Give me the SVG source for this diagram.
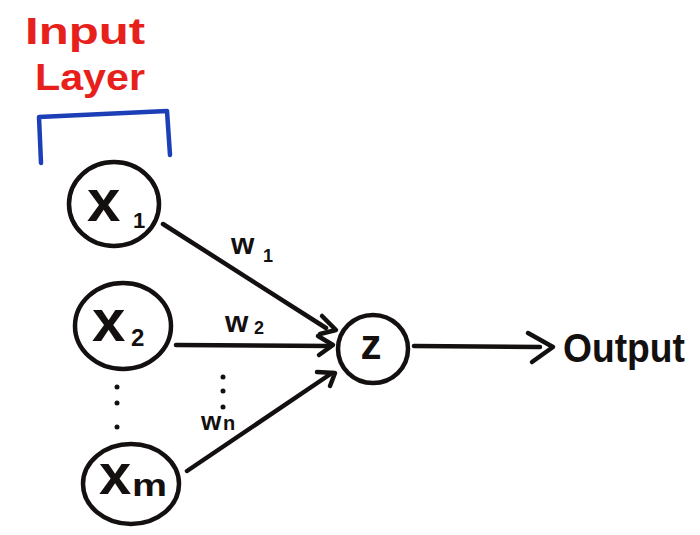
<svg xmlns="http://www.w3.org/2000/svg" width="700" height="535" viewBox="0 0 700 535">
<defs>
<style>
.node{fill:none;stroke:#141010;stroke-width:4.5}
.edge{fill:none;stroke:#141010;stroke-width:4.5;stroke-linecap:round;stroke-linejoin:round}
.lbl{font-family:"Liberation Sans","DejaVu Sans",sans-serif;fill:#141010;font-weight:bold}
.red{font-family:"Liberation Sans","DejaVu Sans",sans-serif;fill:#e8201c;font-weight:bold}
.dot{fill:#141010}
</style>
</defs>
<rect width="700" height="535" fill="#ffffff"/>
<g id="title">
<text class="red" x="25" y="44" font-size="36" textLength="120" lengthAdjust="spacingAndGlyphs">Input</text>
<text class="red" x="35" y="90" font-size="36" textLength="110" lengthAdjust="spacingAndGlyphs">Layer</text>
<path d="M41,163 L39,117 L167,111 L170,155" fill="none" stroke="#1c3fb8" stroke-width="4.5" stroke-linecap="round" stroke-linejoin="round"/>
</g>
<g id="x1">
<ellipse class="node" cx="114" cy="204" rx="45" ry="42"/>
<text class="lbl" x="87" y="221" font-size="60">x</text>
<text class="lbl" x="133" y="228" font-size="22">1</text>
</g>
<g id="x2">
<ellipse class="node" cx="123" cy="326" rx="48" ry="43"/>
<text class="lbl" x="92" y="341" font-size="60">x</text>
<text class="lbl" x="131" y="346" font-size="24">2</text>
</g>
<g id="xm">
<ellipse class="node" cx="131" cy="484" rx="48" ry="40"/>
<text class="lbl" x="99" y="494" font-size="58">x</text>
<text class="lbl" x="132" y="496" font-size="32" textLength="35" lengthAdjust="spacingAndGlyphs">m</text>
</g>
<g id="z">
<ellipse class="node" cx="373" cy="349" rx="35" ry="34"/>
<text class="lbl" x="371" y="359" font-size="42" text-anchor="middle">z</text>
</g>
<g id="output">
<text class="lbl" x="563" y="362" font-size="40" textLength="122" lengthAdjust="spacingAndGlyphs">Output</text>
</g>
<g id="connectors">
<path class="edge" d="M163,224 L326,328"/>
<path class="edge" d="M322,316 L336,330 L320,334"/>
<path class="edge" d="M176,345 L331,346"/>
<path class="edge" d="M318,336 L333,345 L319,355"/>
<path class="edge" d="M187,471 L332,373"/>
<path class="edge" d="M317,372 L335,373 L330,386"/>
<path class="edge" d="M414,346 L540,347"/>
<path class="edge" d="M528,333 L553,347 L532,362"/>
<text class="lbl" x="231" y="254" font-size="30">w</text>
<text class="lbl" x="263" y="262" font-size="18">1</text>
<text class="lbl" x="225" y="332" font-size="30">w</text>
<text class="lbl" x="254" y="334" font-size="18">2</text>
<text class="lbl" x="201" y="430" font-size="26">w</text>
<text class="lbl" x="223" y="430" font-size="20">n</text>
<circle class="dot" cx="117" cy="387" r="2.5"/>
<circle class="dot" cx="117" cy="403" r="2.5"/>
<circle class="dot" cx="117" cy="427" r="2.5"/>
<circle class="dot" cx="223" cy="377" r="2.5"/>
<circle class="dot" cx="223" cy="391" r="2.5"/>
<circle class="dot" cx="223" cy="407" r="2.5"/>
</g>
</svg>
